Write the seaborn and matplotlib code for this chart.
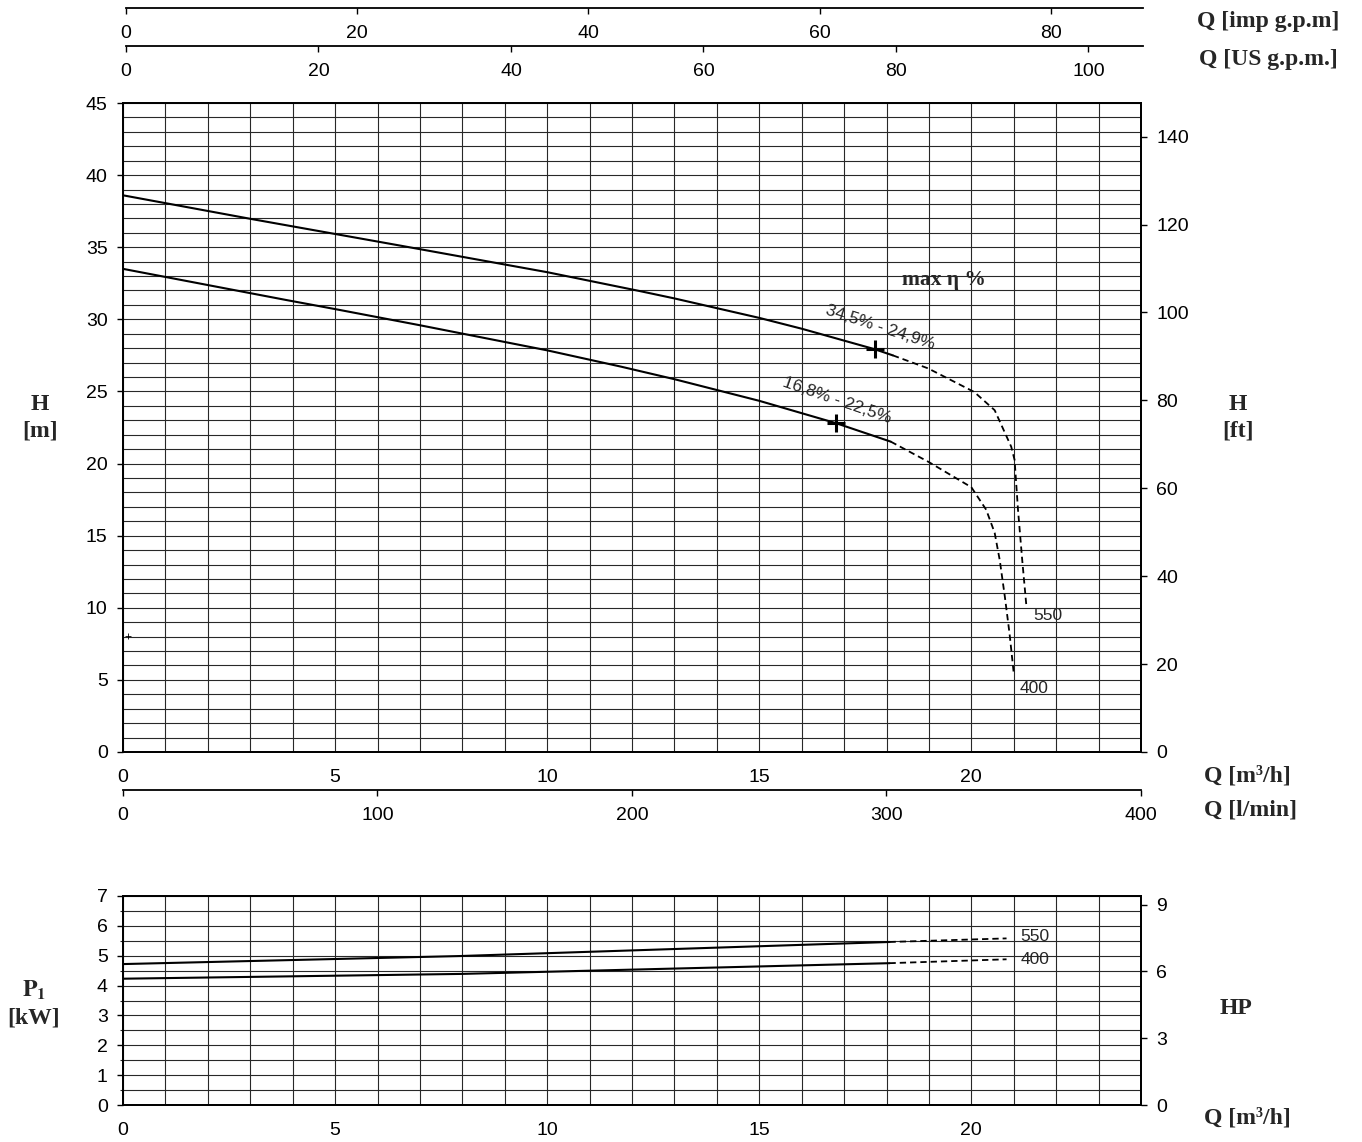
import numpy as np
import pandas as pd
import matplotlib
matplotlib.use("Agg")
import matplotlib.pyplot as plt
import seaborn as sns

# ---------------- data ----------------
# Head curves, solid part  (Q in m3/h, H in m)
q_550_solid = [0.0, 3.02, 6.54, 10.0, 12.2, 13.0, 15.0, 16.0, 17.72, 18.15]
h_550_solid = [38.6, 36.96, 35.11, 33.27, 31.95, 31.45, 30.1, 29.35, 27.93, 27.5]
q_550_dash = [18.15, 18.98, 20.07, 20.55, 20.94, 21.02, 21.1, 21.2, 21.3]
h_550_dash = [27.5, 26.6, 24.96, 23.7, 21.17, 20.25, 16.8, 13.3, 10.06]

q_400_solid = [0.0, 3.83, 5.02, 7.0, 10.0, 11.74, 13.0, 15.0, 16.81, 18.1]
h_400_solid = [33.5, 31.35, 30.7, 29.59, 27.85, 26.72, 25.85, 24.35, 22.8, 21.52]
q_400_dash = [18.1, 19.0, 20.0, 20.35, 20.55, 20.67, 20.79, 20.9, 21.0]
h_400_dash = [21.52, 20.1, 18.36, 16.8, 15.2, 13.3, 10.77, 8.23, 5.46]

# best efficiency points
bep_q = [17.72, 16.81]
bep_h = [27.93, 22.8]
bep_labels = ["34,5% - 24,9%", "16,8% - 22,5%"]

# Power curves (kW)
pq_solid = [0.0, 7.96, 18.07]
p_550_solid = [4.72, 4.99, 5.46]
p_400_solid = [4.23, 4.39, 4.75]
pq_dash = [18.07, 20.83]
p_550_dash = [5.46, 5.58]
p_400_dash = [4.75, 4.88]

model_labels = ["550", "400"]

x_ticks = [0, 5, 10, 15, 20]
h_ticks = [0, 5, 10, 15, 20, 25, 30, 35, 40, 45]
ft_ticks = [0, 20, 40, 60, 80, 100, 120, 140]
p_ticks = [0, 1, 2, 3, 4, 5, 6, 7]
hp_ticks = [0, 3, 6, 9]
imp_ticks = [0, 20, 40, 60, 80]
us_ticks = [0, 20, 40, 60, 80, 100]
lmin_ticks = [0, 100, 200, 300, 400]

# unit conversions
M3H_TO_IMP = 3.666
M3H_TO_US = 4.403
M3H_TO_LMIN = 16.667
M_TO_FT = 3.281
KW_TO_HP = 1.341

# ---------------- style ----------------
sns.set_theme(style="white")
plt.rcParams["font.family"] = ["Liberation Sans", "DejaVu Sans"]
plt.rcParams["mathtext.fontset"] = "stix"

W, H = 1362, 1142
fig = plt.figure(figsize=(W / 100, H / 100), dpi=100)
fig.patch.set_facecolor("white")


def fx(px):
    return px / W


def fy(py):
    return 1 - py / H


def rect(x0, y0, x1, y1):
    return [fx(x0), fy(y1), (x1 - x0) / W, (y1 - y0) / H]


GRID_C = "#282828"
TICK_FS = 14
TICK_PAD = 8.5
SERIF = ["Liberation Serif", "DejaVu Serif"]
LBL_FS = 17
LW = 1.5
DASH = (3.5, 2.2)

XMAX = 24.0


def style_axes(ax):
    for s in ax.spines.values():
        s.set_color("black")
        s.set_linewidth(1.3)
        s.set_visible(True)
    ax.tick_params(axis="both", which="major", direction="out", length=4, width=1,
                   labelsize=TICK_FS, pad=TICK_PAD, colors="black")
    ax.set_facecolor("white")


# ---------------- main H-Q chart ----------------
ax = fig.add_axes(rect(123, 103, 1141, 752))
style_axes(ax)
ax.set_xlim(0, XMAX)
ax.set_ylim(0, 45)
ax.set_xticks(x_ticks)
ax.set_yticks(h_ticks)
ax.set_xticks(np.arange(0, 25, 1), minor=True)
ax.set_yticks(np.arange(0, 46, 1), minor=True)
ax.tick_params(which="minor", length=0)
ax.tick_params(axis="y", which="major", pad=7)
ax.grid(which="both", color=GRID_C, linewidth=0.8)
ax.set_axisbelow(True)

sns.lineplot(x=q_550_solid, y=h_550_solid, ax=ax, color="black", lw=LW, sort=False, estimator=None)
sns.lineplot(x=q_400_solid, y=h_400_solid, ax=ax, color="black", lw=LW, sort=False, estimator=None)
sns.lineplot(x=q_550_dash, y=h_550_dash, ax=ax, color="black", lw=1.3, sort=False, estimator=None)
ax.lines[-1].set_dashes(DASH)
sns.lineplot(x=q_400_dash, y=h_400_dash, ax=ax, color="black", lw=1.3, sort=False, estimator=None)
ax.lines[-1].set_dashes(DASH)
ax.plot(bep_q, bep_h, linestyle="none", marker="+", markersize=13, mew=2.2, color="black")
ax.plot([0.12], [8.04], linestyle="none", marker="+", markersize=5, mew=0.6, color="black")

ax.text(17.85, 29.47, bep_labels[0], rotation=-18, ha="center", va="center", fontsize=12.5,
        rotation_mode="anchor")
ax.text(16.84, 24.4, bep_labels[1], rotation=-19, ha="center", va="center", fontsize=12.5,
        rotation_mode="anchor")
ax.text(19.36, 32.73, "max η %", ha="center", va="center", fontsize=15.5,
        family=SERIF, fontweight="bold")
ax.text(21.45, 9.43, model_labels[0], ha="left", va="center", fontsize=12.5)
ax.text(21.13, 4.37, model_labels[1], ha="left", va="center", fontsize=12.5)
ax.set_xlabel("")
ax.set_ylabel("")

axr = ax.twinx()
style_axes(axr)
axr.set_ylim(0, 45 * M_TO_FT)
axr.set_yticks(ft_ticks)
axr.grid(False)
axr.tick_params(axis="y", right=True, left=False, pad=7)

# ---------------- extra flow axes ----------------
def flow_axis(x0, x1, y, vmax, ticks):
    a = fig.add_axes([fx(x0), fy(y), (x1 - x0) / W, 0.00001])
    for name, s in a.spines.items():
        s.set_visible(name == "bottom")
    a.spines["bottom"].set_linewidth(1.3)
    a.spines["bottom"].set_color("black")
    a.set_facecolor("none")
    a.set_xlim(0, vmax)
    a.set_xticks(ticks)
    a.set_yticks([])
    a.grid(False)
    a.tick_params(axis="x", direction="out", length=4, width=1, labelsize=TICK_FS, pad=TICK_PAD,
                  colors="black", bottom=True)
    return a


flow_axis(126, 1143, 8, XMAX * M3H_TO_IMP, imp_ticks)
flow_axis(126, 1143, 46, XMAX * M3H_TO_US, us_ticks)
flow_axis(123, 1141, 790, XMAX * M3H_TO_LMIN, lmin_ticks)

# ---------------- power chart ----------------
axp = fig.add_axes(rect(123, 896, 1141, 1105))
style_axes(axp)
axp.set_xlim(0, XMAX)
axp.set_ylim(0, 7)
axp.set_xticks(x_ticks)
axp.set_yticks(p_ticks)
axp.set_xticks(np.arange(0, 25, 1), minor=True)
axp.set_yticks(np.arange(0, 7.01, 0.5), minor=True)
axp.tick_params(axis="x", which="minor", length=0)
axp.tick_params(axis="y", which="minor", direction="out", length=2.5, width=0.8, left=True)
axp.tick_params(axis="y", which="major", pad=7)
axp.grid(which="both", color=GRID_C, linewidth=0.8)
axp.set_axisbelow(True)

sns.lineplot(x=pq_solid, y=p_550_solid, ax=axp, color="black", lw=LW, sort=False, estimator=None)
sns.lineplot(x=pq_solid, y=p_400_solid, ax=axp, color="black", lw=LW, sort=False, estimator=None)
sns.lineplot(x=pq_dash, y=p_550_dash, ax=axp, color="black", lw=1.3, sort=False, estimator=None)
axp.lines[-1].set_dashes(DASH)
sns.lineplot(x=pq_dash, y=p_400_dash, ax=axp, color="black", lw=1.3, sort=False, estimator=None)
axp.lines[-1].set_dashes(DASH)
axp.text(21.16, 5.63, model_labels[0], ha="left", va="center", fontsize=12.5)
axp.text(21.16, 4.86, model_labels[1], ha="left", va="center", fontsize=12.5)
axp.set_xlabel("")
axp.set_ylabel("")

axpr = axp.twinx()
style_axes(axpr)
axpr.set_ylim(0, 7 * KW_TO_HP)
axpr.set_yticks(hp_ticks)
axpr.grid(False)
axpr.tick_params(axis="y", right=True, left=False, pad=7)

# ---------------- unit labels ----------------
def label(px, py, s, **kw):
    fig.text(fx(px), fy(py), s, ha="center", va="center", fontsize=LBL_FS,
             family=SERIF, fontweight="bold", **kw)


label(1268, 22, "Q [imp g.p.m]")
label(1268, 60, "Q [US g.p.m.]")
label(40, 418, "H\n[m]", linespacing=1.35)
label(1238, 418, "H\n[ft]", linespacing=1.35)
label(1247, 776, "Q [m³/h]")
label(1250, 810, "Q [l/min]")
label(34, 990, r"$\mathbf{P_1}$")
label(34, 1018, "[kW]")
label(1236, 1008, "HP")
label(1247, 1118, "Q [m³/h]")

fig.savefig("out.png", dpi=100, facecolor="white")
